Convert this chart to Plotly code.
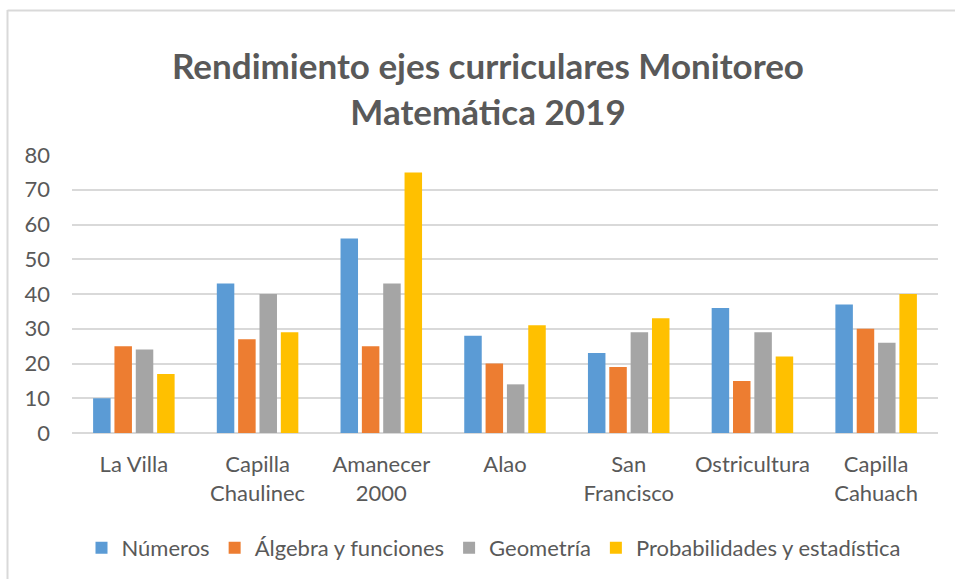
import plotly.graph_objects as go

categories = ["La Villa", "Capilla<br>Chaulinec", "Amanecer<br>2000", "Alao",
              "San<br>Francisco", "Ostricultura", "Capilla<br>Cahuach"]
series_names = ["Números", "Álgebra y funciones", "Geometría", "Probabilidades y estadística"]
numeros = [10, 43, 56, 28, 23, 36, 37]
algebra = [25, 27, 25, 20, 19, 15, 30]
geometria = [24, 40, 43, 14, 29, 29, 26]
probabilidades = [17, 29, 75, 31, 33, 22, 40]
colors = ["#5B9BD5", "#ED7D31", "#A5A5A5", "#FFC000"]
y_ticks = [0, 10, 20, 30, 40, 50, 60, 70, 80]

FONT = "Lato"
TXT = "#595959"

fig = go.Figure()
for name, vals, col in zip(series_names, [numeros, algebra, geometria, probabilidades], colors):
    fig.add_trace(go.Bar(x=categories, y=vals, name=name, marker_color=col,
                         marker_line_width=0))

# pixel -> paper helpers
L, R, T, B = 72, 17, 155, 146
W, H = 955, 579
pw, ph = W - L - R, H - T - B
def px(x):
    return (x - L) / pw
def py(y):
    return (H - B - y) / ph

fig.update_layout(
    width=W, height=H,
    margin=dict(l=L, r=R, t=T, b=B, autoexpand=False),
    paper_bgcolor="white", plot_bgcolor="white",
    font=dict(family=FONT, color=TXT, size=22),
    title=dict(text="<b>Rendimiento ejes curriculares Monitoreo<br>Matemática 2019</b>",
               x=488 / W, xref="container", xanchor="center",
               y=1 - 79 / H, yref="container", yanchor="middle",
               font=dict(family=FONT, size=35, color=TXT)),
    barmode="group", bargap=0.31, bargroupgap=0.18,
    showlegend=True,
    legend=dict(orientation="h", x=px(494), xanchor="center", y=py(548), yanchor="middle",
                font=dict(size=22, color=TXT), traceorder="normal", itemwidth=30),
    xaxis=dict(showgrid=False, showline=False, ticks="", automargin=False,
               ticklabelstandoff=16, tickfont=dict(size=22, color=TXT)),
    yaxis=dict(range=[0, 80], tickvals=y_ticks, showgrid=True, gridcolor="#D9D9D9",
               gridwidth=1.5, zeroline=True, zerolinecolor="#D9D9D9", zerolinewidth=1.5,
               showline=False, ticks="", ticklabelstandoff=21, automargin=False,
               tickfont=dict(size=22, color=TXT)),
    shapes=[
        dict(type="line", xref="paper", yref="paper", x0=px(7.5), x1=px(7.5),
             y0=py(10), y1=py(590), line=dict(color="#D9D9D9", width=2)),
        dict(type="line", xref="paper", yref="paper", x0=px(7.5), x1=px(960),
             y0=py(10.5), y1=py(10.5), line=dict(color="#D9D9D9", width=2)),
    ],
)

fig.write_html("out.html", config={"displayModeBar": False},
               post_script="document.body.style.margin='0px';document.body.style.overflow='hidden';")
